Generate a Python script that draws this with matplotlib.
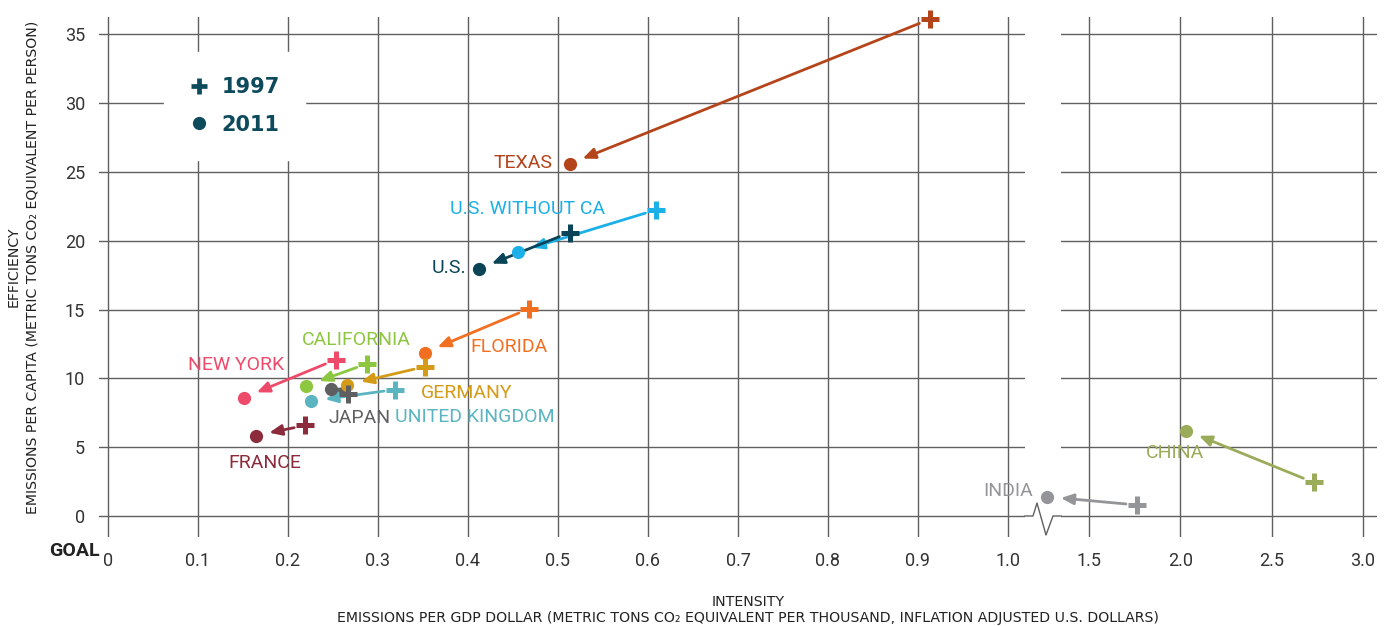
import matplotlib
matplotlib.use('Agg')
import matplotlib.pyplot as plt
from matplotlib.lines import Line2D

# 1997 -> 2011, intensity (x) vs per-capita emissions (y)
names = ['TEXAS', 'U.S. WITHOUT CA', 'U.S.', 'FLORIDA', 'CALIFORNIA',
         'NEW YORK', 'GERMANY', 'JAPAN', 'UNITED KINGDOM', 'FRANCE']
x1997 = [0.913, 0.609, 0.513, 0.468, 0.288, 0.253, 0.352, 0.267, 0.319, 0.219]
y1997 = [36.1, 22.25, 20.6, 15.07, 11.07, 11.36, 10.85, 8.9, 9.19, 6.58]
x2011 = [0.513, 0.456, 0.412, 0.352, 0.220, 0.151, 0.266, 0.248, 0.226, 0.164]
y2011 = [25.6, 19.2, 17.97, 11.88, 9.47, 8.6, 9.54, 9.25, 8.35, 5.85]

names_r = ['CHINA', 'INDIA']
x1997_r = [2.73, 1.763]
y1997_r = [2.44, 0.8]
x2011_r = [2.031, 1.27]
y2011_r = [6.21, 1.4]

yticks = [0, 5, 10, 15, 20, 25, 30, 35]
xticks_l = [0, 0.1, 0.2, 0.3, 0.4, 0.5, 0.6, 0.7, 0.8, 0.9, 1.0]
xlabels_l = ['0', '0.1', '0.2', '0.3', '0.4', '0.5', '0.6', '0.7', '0.8', '0.9', '1.0']
xticks_r = [1.5, 2.0, 2.5, 3.0]
xlabels_r = ['1.5', '2.0', '2.5', '3.0']

colors = ['#b5441a', '#1cb0e8', '#0b4457', '#f26f22', '#8dc63f',
          '#ee4b6b', '#d49b17', '#5f5f61', '#5bb5c1', '#8b2b3b']
colors_r = ['#9aab5a', '#939598']
# label offsets from the 2011 dot, in pixels (dx, dy, ha)
offs = [(-17, 1, 'right'), (9, 43, 'center'), (-12, 1, 'right'), (46, 6, 'left'),
        (50, 46, 'center'), (-8, 33, 'center'), (73, -8, 'left'), (-3, -29, 'left'),
        (84, -16, 'left'), (9, -27, 'center')]
offs_r = [(-11, -22, 'center'), (-14, 6, 'right')]

LBL = ['Roboto', 'DejaVu Sans']
GRID = '#606060'
W, H = 1388, 626

fig = plt.figure(figsize=(W / 100, H / 100), dpi=100)
axl = fig.add_axes([99 / W, (H - 537) / H, (1025 - 99) / W, (537 - 17) / H])
axr = fig.add_axes([1061 / W, (H - 537) / H, (1377 - 1061) / W, (537 - 17) / H])

ylim = ((516 - 537) / 13.76, (516 - 17) / 13.76)
axl.set_xlim((99 - 108) / 900, (1025 - 108) / 900)
axr.set_xlim(1.5 + (1061 - 1089) / 182.7, 3.0 + (1377 - 1363) / 182.7)

for ax, xt, xl in [(axl, xticks_l, xlabels_l), (axr, xticks_r, xlabels_r)]:
    ax.set_ylim(*ylim)
    ax.set_xticks(xt)
    ax.set_xticklabels(xl, fontfamily=LBL, fontsize=13, color='#333333')
    ax.set_yticks(yticks)
    for s in ax.spines.values():
        s.set_visible(False)
    ax.tick_params(length=0)
    ax.tick_params(axis='x', pad=11)
    ax.grid(True, color=GRID, lw=1.0)
    ax.set_axisbelow(True)
axl.set_yticklabels([str(v) for v in yticks], fontfamily=LBL, fontsize=13, color='#333333')
axl.tick_params(axis='y', pad=10)
axr.set_yticklabels([])

# zero line bridging the break, with a zigzag
zx = [1025, 1033, 1037, 1046, 1053, 1061]
zy = [516, 516, 503, 535, 516, 516]
axr.plot([1.5 + (p - 1089) / 182.7 for p in zx], [(516 - p) / 13.76 for p in zy],
         color=GRID, lw=1.0, clip_on=False)


def draw(ax, xa, ya, xb, yb, cols, labels, offsets):
    for i in range(len(xa)):
        c = cols[i]
        ax.annotate('', xy=(xb[i], yb[i]), xytext=(xa[i], ya[i]),
                    arrowprops=dict(arrowstyle='-|>,head_length=0.75,head_width=0.32',
                                    color=c, lw=2, shrinkA=8, shrinkB=10),
                    annotation_clip=False, zorder=3)
        ax.plot(xa[i], ya[i], marker='+', ms=13, mew=3.6, color=c, clip_on=False, zorder=4)
        ax.plot(xb[i], yb[i], marker='o', ms=9.5, color=c, mec='none', clip_on=False, zorder=4)
        dx, dy, ha = offsets[i]
        ax.annotate(labels[i], xy=(xb[i], yb[i]), xytext=(dx, dy), textcoords='offset pixels',
                    ha=ha, va='center', color=c, fontsize=14, fontfamily=LBL,
                    annotation_clip=False, zorder=5)


draw(axl, x1997, y1997, x2011, y2011, colors, names, offs)
draw(axr, x1997_r, y1997_r, x2011_r, y2011_r, colors_r, names_r, offs_r)

# legend
teal = '#0d4a5c'
h = [Line2D([], [], ls='none', marker='+', ms=12, mew=3.4, color=teal),
     Line2D([], [], ls='none', marker='o', ms=9.5, color=teal, mec='none')]
leg = axl.legend(h, ['1997', '2011'], loc='upper left',
                 bbox_to_anchor=((164 - 99) / 926, 1 - (52 - 17) / 520),
                 frameon=True, fancybox=False, framealpha=1, edgecolor='white',
                 facecolor='white', handlelength=1.0, handletextpad=0.55, borderpad=1.2,
                 labelspacing=0.85, borderaxespad=0,
                 prop={'family': 'DejaVu Sans', 'weight': 'bold', 'size': 15})
for t in leg.get_texts():
    t.set_color(teal)
leg.set_zorder(2)

fig.text(74 / W, 1 - 551 / H, 'GOAL', ha='center', va='center', fontsize=14,
         fontfamily=LBL, fontweight='bold', color='#222222')

TFS = 10.2
fig.text(14 / W, 1 - 267 / H, 'EFFICIENCY', rotation=90, ha='center', va='center',
         fontsize=TFS, color='#222222')
fig.text(33 / W, 1 - 267 / H, 'EMISSIONS PER CAPITA (METRIC TONS CO\u2082 EQUIVALENT PER PERSON)',
         rotation=90, ha='center', va='center', fontsize=TFS, color='#222222')
fig.text(748 / W, 1 - 602 / H, 'INTENSITY', ha='center', va='center', fontsize=TFS, color='#222222')
fig.text(748 / W, 1 - 618 / H,
         'EMISSIONS PER GDP DOLLAR (METRIC TONS CO\u2082 EQUIVALENT PER THOUSAND, INFLATION ADJUSTED U.S. DOLLARS)',
         ha='center', va='center', fontsize=TFS, color='#222222')

fig.savefig('out.png', dpi=100)
